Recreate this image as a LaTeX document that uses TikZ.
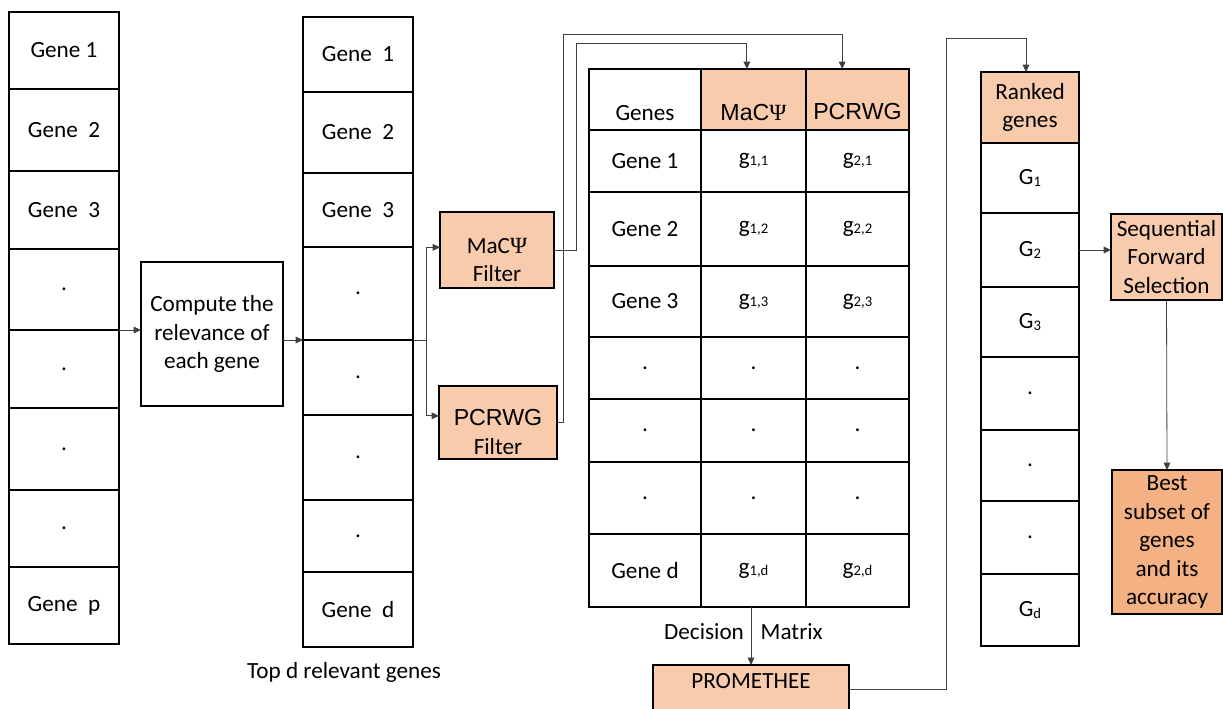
\documentclass[tikz,border=0pt]{standalone}
\usepackage{fontspec}
\setmainfont{Carlito}
\newfontfamily\arialfont{Liberation Sans}
\newfontfamily\timesfont{Liberation Serif}
\usetikzlibrary{positioning,arrows.meta}
\definecolor{peach}{HTML}{F8CBAD}
\definecolor{deeppeach}{HTML}{F4B183}
\newlength\unitpx
\setlength\unitpx{0.75pt}
\newcommand\psiglyph{{\timesfont Ψ}}
\newcommand\lowidx[1]{\raisebox{-0.8pt}{\fontsize{11}{11}\selectfont #1}}
\begin{document}
\begin{tikzpicture}[x=0.75pt, y=-0.75pt, font=\fontsize{17.4}{21.4}\selectfont,
    cell/.style={draw, rectangle, outer sep=0pt, inner sep=0pt, align=center, line width=0.8pt},
    colA/.style={cell, minimum width=110\unitpx},
    colG/.style={cell, minimum width=112\unitpx},
    colM/.style={cell, minimum width=105\unitpx},
    colP/.style={cell, minimum width=103\unitpx},
    colR/.style={cell, minimum width=98\unitpx},
    filt/.style={cell, fill=peach},
    conn/.style={draw=black!75, line width=0.6pt, -{Triangle[length=5.5pt,width=5pt]}}]
\useasboundingbox (0,0) rectangle (1223,709);

% all p genes
\node[colA, minimum height=77\unitpx, anchor=north west] (a1) at (9,12) {Gene 1};
\node[colA, minimum height=82\unitpx, below=0pt of a1] (a2) {Gene\ \ 2};
\node[colA, minimum height=78\unitpx, below=0pt of a2] (a3) {Gene\ \ 3};
\node[colA, minimum height=81\unitpx, below=0pt of a3] (a4) {.};
\node[colA, minimum height=78\unitpx, below=0pt of a4] (a5) {.};
\node[colA, minimum height=82\unitpx, below=0pt of a5] (a6) {.};
\node[colA, minimum height=77\unitpx, below=0pt of a6] (a7) {.};
\node[colA, minimum height=77\unitpx, below=0pt of a7] (a8) {Gene\ \ p};

\node[cell, minimum width=142\unitpx, minimum height=144\unitpx] (comp) at (212,334) {Compute the\\relevance of\\each gene};

% top d genes
\node[colA, minimum height=75\unitpx, anchor=north west] (b1) at (303,17) {Gene\ \ 1};
\node[colA, minimum height=81\unitpx, below=0pt of b1] (b2) {Gene\ \ 2};
\node[colA, minimum height=74\unitpx, below=0pt of b2] (b3) {Gene\ \ 3};
\node[colA, minimum height=93\unitpx, below=0pt of b3] (b4) {.};
\node[colA, minimum height=75\unitpx, below=0pt of b4] (b5) {.};
\node[colA, minimum height=85\unitpx, below=0pt of b5] (b6) {.};
\node[colA, minimum height=72\unitpx, below=0pt of b6] (b7) {.};
\node[colA, minimum height=75\unitpx, below=0pt of b7] (b8) {Gene\ \ d};
\node (toplbl) at (344,672) {Top d relevant genes};

% filters
\node[filt, minimum width=114\unitpx, minimum height=76\unitpx] (macf) at (497,250) {};
\node[align=center, inner sep=0pt] (macftxt) at ([yshift=-7.5pt]macf.center) {MaC\psiglyph\\Filter};
\node[filt, minimum width=118\unitpx, minimum height=73\unitpx] (pcrf) at (498,422.5) {};
\node[align=center, inner sep=0pt] (pcrftxt) at ([yshift=-7pt]pcrf.center) {{\arialfont PCRWG}\\Filter};

% decision matrix
\node[colG, minimum height=61\unitpx, anchor=north west] (n0) at (589,69) {};
\node[colM, minimum height=61\unitpx, fill=peach, right=0pt of n0] (m0) {};
\node[colP, minimum height=61\unitpx, fill=peach, right=0pt of m0] (p0) {};
\node[anchor=base] (n0txt) at ([yshift=7pt]n0.south) {Genes};
\node[anchor=base] (m0txt) at ([yshift=7pt]m0.south) {{\arialfont MaC}\psiglyph};
\node[anchor=base] (p0txt) at ([yshift=8pt]p0.south) {\arialfont PCRWG};

\node[colG, minimum height=62\unitpx, below=0pt of n0] (n1) {Gene 1};
\node[colM, minimum height=62\unitpx, below=0pt of m0] (m1) {g\lowidx{1,1}};
\node[colP, minimum height=62\unitpx, below=0pt of p0] (p1) {g\lowidx{2,1}};
\node[colG, minimum height=74\unitpx, below=0pt of n1] (n2) {Gene 2};
\node[colM, minimum height=74\unitpx, below=0pt of m1] (m2) {g\lowidx{1,2}};
\node[colP, minimum height=74\unitpx, below=0pt of p1] (p2) {g\lowidx{2,2}};
\node[colG, minimum height=71\unitpx, below=0pt of n2] (n3) {Gene 3};
\node[colM, minimum height=71\unitpx, below=0pt of m2] (m3) {g\lowidx{1,3}};
\node[colP, minimum height=71\unitpx, below=0pt of p2] (p3) {g\lowidx{2,3}};
\node[colG, minimum height=62\unitpx, below=0pt of n3] (n4) {.};
\node[colM, minimum height=62\unitpx, below=0pt of m3] (m4) {.};
\node[colP, minimum height=62\unitpx, below=0pt of p3] (p4) {.};
\node[colG, minimum height=63\unitpx, below=0pt of n4] (n5) {.};
\node[colM, minimum height=63\unitpx, below=0pt of m4] (m5) {.};
\node[colP, minimum height=63\unitpx, below=0pt of p4] (p5) {.};
\node[colG, minimum height=72\unitpx, below=0pt of n5] (n6) {.};
\node[colM, minimum height=72\unitpx, below=0pt of m5] (m6) {.};
\node[colP, minimum height=72\unitpx, below=0pt of p5] (p6) {.};
\node[colG, minimum height=73\unitpx, below=0pt of n6] (n7) {Gene d};
\node[colM, minimum height=73\unitpx, below=0pt of m6] (m7) {g\lowidx{1,d}};
\node[colP, minimum height=73\unitpx, below=0pt of p6] (p7) {g\lowidx{2,d}};

\node[filt, minimum width=196\unitpx, minimum height=48\unitpx, text depth=16\unitpx] (prom) at (751,689) {PROMETHEE};

% ranked genes
\node[colR, minimum height=71\unitpx, fill=peach, anchor=north west] (r0) at (981,72) {Ranked\\genes};
\node[colR, minimum height=70\unitpx, below=0pt of r0] (r1) {G\lowidx{1}};
\node[colR, minimum height=74\unitpx, below=0pt of r1] (r2) {G\lowidx{2}};
\node[colR, minimum height=70\unitpx, below=0pt of r2] (r3) {G\lowidx{3}};
\node[colR, minimum height=73\unitpx, below=0pt of r3] (r4) {.};
\node[colR, minimum height=71\unitpx, below=0pt of r4] (r5) {.};
\node[colR, minimum height=73\unitpx, below=0pt of r5] (r6) {.};
\node[colR, minimum height=72\unitpx, below=0pt of r6] (r7) {G\lowidx{d}};

\node[filt, minimum width=111\unitpx, minimum height=86\unitpx] (sfs) at (1166.5,257) {Sequential\\Forward\\Selection};
\node[cell, fill=deeppeach, minimum width=110\unitpx, minimum height=144\unitpx] (best) at (1167,542) {Best\\subset of\\genes\\and its\\accuracy};

% connectors
\draw[conn] (a4.south east) -- (a4.south east -| comp.west);
\draw[conn] (comp.east |- b4.south west) -- (b4.south west);
\coordinate (split) at (426,340);
\draw[conn] (b4.south east) -- (split) |- ([yshift=2pt]macf.west);
\draw[conn] (split) |- ([yshift=5pt]pcrf.west);
\draw[conn] (macf.east) -| (576,43) -| ([xshift=-5pt]m0.north);
\draw[conn] (pcrf.east) -| (563,34) -| ([xshift=-11.5pt]p0.north);
\draw[conn] (prom.north |- m7.south) -- node[left, inner sep=5pt, yshift=3pt] (declbl) {Decision} node[right, inner sep=7pt, yshift=3pt] (matlbl) {Matrix} (prom.north);
\draw[conn] (prom.east) -| (946,38) -| ([xshift=-3pt]r0.north);
\draw[conn] (r2.east) -- (r2.east -| sfs.west);
\draw[conn] (sfs.south) -- (best.north);
\end{tikzpicture}
\end{document}
